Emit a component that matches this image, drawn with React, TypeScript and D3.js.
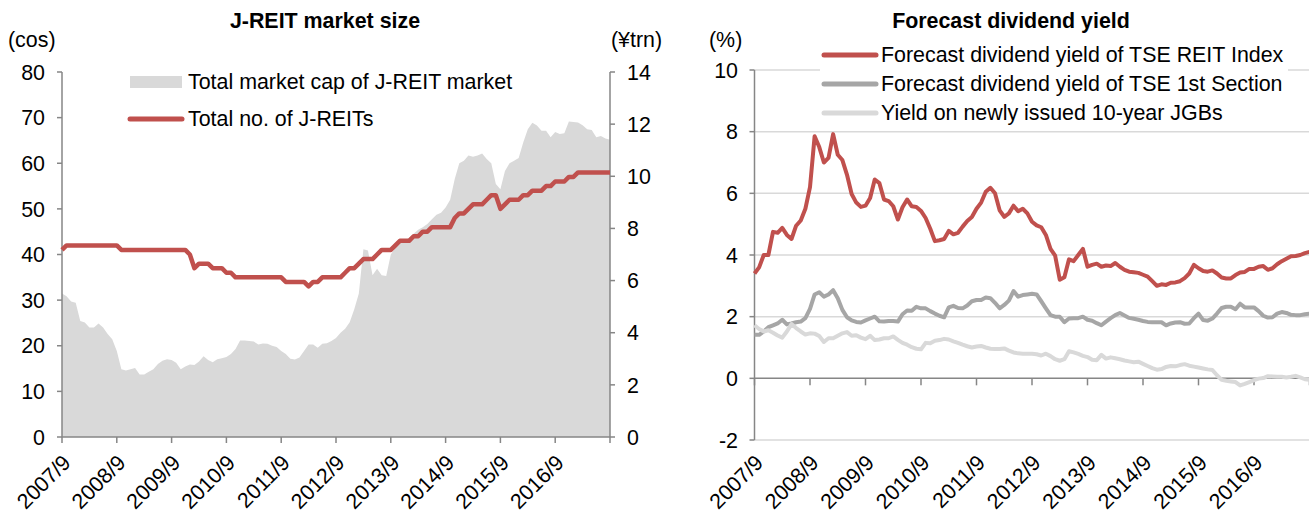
import React from 'react';
import * as d3 from 'd3';

// monthly, 2007/9 .. 2017/9
const tickLabels = ['2007/9', '2008/9', '2009/9', '2010/9', '2011/9', '2012/9', '2013/9', '2014/9', '2015/9', '2016/9'];

// number of listed J-REITs (left axis, cos)
const reitCount = [
  41, 42, 42, 42, 42, 42, 42, 42, 42, 42,
  42, 42, 42, 41, 41, 41, 41, 41, 41, 41,
  41, 41, 41, 41, 41, 41, 41, 41, 40, 37,
  38, 38, 38, 37, 37, 37, 36, 36, 35, 35,
  35, 35, 35, 35, 35, 35, 35, 35, 35, 34,
  34, 34, 34, 34, 33, 34, 34, 35, 35, 35,
  35, 35, 36, 37, 37, 38, 39, 39, 39, 40,
  41, 41, 41, 42, 43, 43, 43, 44, 44, 45,
  45, 46, 46, 46, 46, 46, 48, 49, 49, 50,
  51, 51, 51, 52, 53, 53, 50, 51, 52, 52,
  52, 53, 53, 54, 54, 54, 55, 55, 56, 56,
  56, 57, 57, 58, 58, 58, 58, 58, 58, 58,
  58,
];

// total market cap (right axis, ¥trn)
const marketCap = [
  5.5, 5.4, 5.2, 5.15, 4.45, 4.39, 4.2, 4.2, 4.35, 4.2,
  3.95, 3.75, 3.3, 2.6, 2.55, 2.6, 2.65, 2.4, 2.4, 2.5,
  2.6, 2.8, 2.92, 2.98, 2.95, 2.85, 2.6, 2.7, 2.78, 2.76,
  2.9, 3.1, 2.95, 2.87, 2.98, 3.02, 3.07, 3.18, 3.38, 3.7,
  3.7, 3.68, 3.66, 3.55, 3.59, 3.58, 3.5, 3.45, 3.3, 3.18,
  3.0, 2.97, 3.05, 3.3, 3.55, 3.55, 3.42, 3.58, 3.6, 3.68,
  3.8, 4.0, 4.15, 4.4, 4.9, 5.5, 7.2, 7.15, 6.2, 6.45,
  6.2, 6.18, 7.0, 7.26, 7.4, 7.55, 7.63, 7.8, 7.95, 8.05,
  8.17, 8.35, 8.52, 8.6, 8.8, 9.1, 9.9, 10.5, 10.6, 10.8,
  10.75, 10.8, 10.87, 10.66, 10.5, 9.7, 9.5, 10.2, 10.5, 10.6,
  10.7, 11.3, 11.8, 12.05, 11.95, 11.75, 11.75, 11.5, 11.7, 11.62,
  11.65, 12.1, 12.08, 12.06, 11.96, 11.8, 11.78, 11.5, 11.55, 11.45,
  11.4,
];

const reitYield = [
  3.4, 3.6, 4.0, 4.0, 4.75, 4.72, 4.88, 4.65, 4.52, 4.95,
  5.12, 5.5, 6.2, 7.85, 7.5, 7.0, 7.15, 7.92, 7.25, 7.08,
  6.6, 5.98, 5.7, 5.56, 5.6, 5.85, 6.45, 6.33, 5.8, 5.75,
  5.58, 5.15, 5.55, 5.8, 5.58, 5.56, 5.43, 5.2, 4.85, 4.45,
  4.48, 4.52, 4.78, 4.67, 4.72, 4.92, 5.1, 5.23, 5.5, 5.7,
  6.05, 6.18, 6.0, 5.45, 5.24, 5.35, 5.6, 5.42, 5.5, 5.35,
  5.08, 4.96, 4.9, 4.65, 4.2, 3.98, 3.2, 3.28, 3.86, 3.8,
  4.0, 4.2, 3.62, 3.68, 3.72, 3.62, 3.66, 3.64, 3.74, 3.62,
  3.52, 3.46, 3.44, 3.42, 3.36, 3.3, 3.15, 3.0, 3.05, 3.03,
  3.1, 3.11, 3.15, 3.25, 3.4, 3.68, 3.57, 3.48, 3.46, 3.5,
  3.4, 3.27, 3.24, 3.24, 3.35, 3.43, 3.45, 3.55, 3.55, 3.62,
  3.64, 3.52, 3.57, 3.7, 3.8, 3.88, 3.96, 3.97, 4.0, 4.06,
  4.1,
];

const tseYield = [
  1.41, 1.41, 1.52, 1.66, 1.72, 1.78, 1.9, 1.75, 1.78, 1.82,
  1.84, 1.95, 2.25, 2.72, 2.79, 2.65, 2.72, 2.86, 2.6, 2.22,
  1.98, 1.88, 1.83, 1.81, 1.88, 1.94, 2.0, 1.85, 1.84, 1.86,
  1.86, 1.84, 2.08, 2.2, 2.19, 2.32, 2.27, 2.27, 2.18, 2.1,
  2.03, 1.98, 2.3, 2.35, 2.28, 2.27, 2.36, 2.5, 2.54, 2.54,
  2.62, 2.6, 2.45, 2.27, 2.38, 2.52, 2.83, 2.65, 2.7, 2.72,
  2.74, 2.72, 2.5, 2.27, 2.05, 2.0, 2.0, 1.82, 1.94, 1.95,
  1.95, 2.0, 1.9, 1.87, 1.79, 1.72, 1.84, 1.95, 2.05, 2.12,
  2.04, 1.96, 1.93, 1.9, 1.86, 1.83, 1.82, 1.82, 1.82, 1.72,
  1.78, 1.81, 1.82, 1.77, 1.78, 1.95, 2.1, 1.89, 1.87, 1.94,
  2.1, 2.28, 2.32, 2.32, 2.24, 2.42, 2.3, 2.3, 2.3, 2.18,
  2.03, 1.97, 1.98, 2.1, 2.15, 2.12, 2.06, 2.05, 2.05, 2.08,
  2.1,
];

const jgbYield = [
  1.72, 1.6, 1.52, 1.56, 1.48, 1.39, 1.32, 1.52, 1.76, 1.63,
  1.52, 1.42, 1.46, 1.45, 1.37, 1.18, 1.3, 1.3, 1.38, 1.46,
  1.5, 1.38, 1.4, 1.32, 1.27, 1.38, 1.24, 1.26, 1.3, 1.3,
  1.36, 1.25, 1.15, 1.09, 1.01, 0.96, 0.94, 1.15, 1.14, 1.22,
  1.24, 1.28, 1.26, 1.2, 1.15, 1.09, 1.04, 1.0, 1.03, 1.05,
  1.0, 0.96, 0.95, 0.95, 0.97, 0.9, 0.84, 0.81, 0.8, 0.8,
  0.8, 0.78, 0.74, 0.8, 0.72, 0.62, 0.57, 0.62, 0.88, 0.84,
  0.79, 0.73, 0.69, 0.6, 0.59, 0.76, 0.64, 0.68, 0.65, 0.62,
  0.58, 0.55, 0.52, 0.54, 0.47, 0.4, 0.33, 0.28, 0.3, 0.37,
  0.4, 0.39, 0.43, 0.46, 0.41, 0.38, 0.35, 0.32, 0.29, 0.27,
  0.1, -0.05, -0.08, -0.1, -0.12, -0.23, -0.18, -0.12, -0.06, -0.01,
  0.01, 0.07, 0.06, 0.05, 0.05, 0.03, 0.05, 0.08, 0.03, -0.03,
  -0.05,
];

const FONT = '"Liberation Sans", Arial, sans-serif';
const FS = 21.4;
const RED = '#c0504d';
const GREY = '#a6a6a6';
const LIGHT = '#d9d9d9';
const AXIS = '#868686';

const monthTicks = d3.range(0, 121, 12);

function XLabels({ x, y }: { x: d3.ScaleLinear<number, number>; y: number }) {
  return (
    <g>
      {tickLabels.map((t, i) => (
        <text key={t} transform={`translate(${x(i * 12) + 10},${y}) rotate(-45)`}
          textAnchor="end" fontSize={FS} fontFamily={FONT} fill="#000">{t}</text>
      ))}
    </g>
  );
}

function MarketSize() {
  const x = d3.scaleLinear().domain([0, 120]).range([62, 610]);
  const yL = d3.scaleLinear().domain([0, 80]).range([437, 72]);
  const yR = d3.scaleLinear().domain([0, 14]).range([437, 72]);

  const area = d3.area<number>().x((_, i) => x(i)).y0(yR(0)).y1(d => yR(d));
  const line = d3.line<number>().x((_, i) => x(i)).y(d => yL(d));

  return (
    <g>
      <text x={325} y={28} textAnchor="middle" fontSize={FS} fontWeight="bold" fontFamily={FONT}>J-REIT market size</text>
      <text x={8} y={47} fontSize={FS} fontFamily={FONT}>(cos)</text>
      <text x={611} y={47} fontSize={FS} fontFamily={FONT}>(¥trn)</text>

      <path d={area(marketCap) || ''} fill={LIGHT} />

      {/* axes */}
      <line x1={x(0)} x2={x(0)} y1={yL(80)} y2={yL(0)} stroke={AXIS} strokeWidth={1.5} />
      <line x1={x(120)} x2={x(120)} y1={yR(14)} y2={yR(0)} stroke={AXIS} strokeWidth={1.5} />
      <line x1={x(0)} x2={x(120)} y1={yL(0)} y2={yL(0)} stroke={AXIS} strokeWidth={1.5} />
      {yL.ticks(8).map(v => (
        <g key={'l' + v}>
          <line x1={x(0) - 5} x2={x(0)} y1={yL(v)} y2={yL(v)} stroke={AXIS} strokeWidth={1.5} />
          <text x={45} y={yL(v)} dy="0.36em" textAnchor="end" fontSize={FS} fontFamily={FONT}>{v}</text>
        </g>
      ))}
      {yR.ticks(7).map(v => (
        <g key={'r' + v}>
          <line x1={x(120)} x2={x(120) + 5} y1={yR(v)} y2={yR(v)} stroke={AXIS} strokeWidth={1.5} />
          <text x={627} y={yR(v)} dy="0.36em" fontSize={FS} fontFamily={FONT}>{v}</text>
        </g>
      ))}
      {monthTicks.map(m => (
        <line key={'t' + m} x1={x(m)} x2={x(m)} y1={yL(0)} y2={yL(0) + 6} stroke={AXIS} strokeWidth={1.5} />
      ))}

      <path d={line(reitCount) || ''} fill="none" stroke={RED} strokeWidth={4.5} strokeLinejoin="round" />

      {/* legend */}
      <rect x={130} y={76} width={52} height={12} fill={LIGHT} />
      <text x={188} y={89} fontSize={FS} fontFamily={FONT}>Total market cap of J-REIT market</text>
      <line x1={130} x2={182} y1={119} y2={119} stroke={RED} strokeWidth={5} strokeLinecap="round" />
      <text x={188} y={126} fontSize={FS} fontFamily={FONT}>Total no. of J-REITs</text>

      <XLabels x={x} y={464} />
    </g>
  );
}

function DividendYield() {
  const x = d3.scaleLinear().domain([0, 120]).range([754.5, 1309.5]);
  const y = d3.scaleLinear().domain([-2, 10]).range([440, 70]);
  const line = d3.line<number>().x((_, i) => x(i)).y(d => y(d));

  const series = [
    { name: 'Forecast dividend yield of TSE REIT Index', data: reitYield, color: RED },
    { name: 'Forecast dividend yield of TSE 1st Section', data: tseYield, color: GREY },
    { name: 'Yield on newly issued 10-year JGBs', data: jgbYield, color: LIGHT },
  ];

  return (
    <g>
      <text x={1011} y={28} textAnchor="middle" fontSize={FS} fontWeight="bold" fontFamily={FONT}>Forecast dividend yield</text>
      <text x={709} y={47} fontSize={FS} fontFamily={FONT}>(%)</text>

      {y.ticks(6).filter(v => v !== 0).map(v => (
        <line key={'g' + v} x1={x(0)} x2={1309} y1={y(v)} y2={y(v)} stroke={LIGHT} strokeWidth={1.5} />
      ))}
      <line x1={x(0)} x2={1309} y1={y(0)} y2={y(0)} stroke={AXIS} strokeWidth={1.5} />
      <line x1={x(0)} x2={x(0)} y1={y(10)} y2={y(-2)} stroke={AXIS} strokeWidth={1.5} />
      {y.ticks(6).map(v => (
        <g key={'y' + v}>
          <line x1={x(0) - 5} x2={x(0)} y1={y(v)} y2={y(v)} stroke={AXIS} strokeWidth={1.5} />
          <text x={738} y={y(v)} dy="0.36em" textAnchor="end" fontSize={FS} fontFamily={FONT}>{v}</text>
        </g>
      ))}
      {monthTicks.map(m => (
        <line key={'t' + m} x1={x(m)} x2={x(m)} y1={y(0)} y2={y(0) + 7} stroke={AXIS} strokeWidth={1.5} />
      ))}

      {series.map(s => (
        <path key={s.name} d={line(s.data) || ''} fill="none" stroke={s.color} strokeWidth={4} strokeLinejoin="round" />
      ))}

      {/* legend */}
      <rect x={820} y={42} width={468} height={84} fill="#fff" />
      {series.map((s, i) => (
        <g key={'lg' + i}>
          <line x1={824} x2={876} y1={55 + i * 29} y2={55 + i * 29} stroke={s.color} strokeWidth={5} strokeLinecap="round" />
          <text x={881} y={62 + i * 29} fontSize={FS} fontFamily={FONT}>{s.name}</text>
        </g>
      ))}

      <XLabels x={x} y={464} />
    </g>
  );
}

export default function App() {
  return (
    <svg width={1309} height={513} style={{ position: 'absolute', left: 0, top: 0, background: '#fff' }}>
      <MarketSize />
      <DividendYield />
    </svg>
  );
}
